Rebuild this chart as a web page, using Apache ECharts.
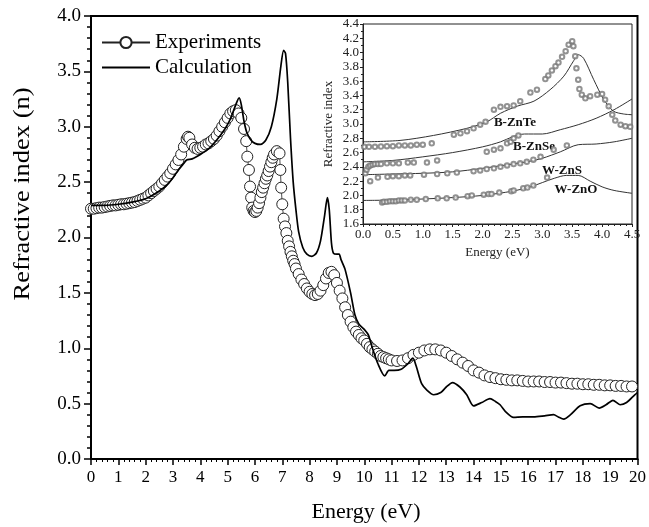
<!DOCTYPE html>
<html><head><meta charset="utf-8">
<script src="https://cdn.jsdelivr.net/npm/echarts@6/dist/echarts.min.js"></script>
<style>html,body{margin:0;padding:0;background:#fff}#c{width:649px;height:527px}</style>
</head><body><div id="c"></div>
<script>
// ---- main panel data ----
const expE = [0.0,0.1,0.2,0.3,0.4,0.5,0.6,0.7,0.8,0.9,1.0,1.1,1.2,1.3,1.4,1.5,1.6,1.7,1.8,1.9,2.0,2.1,2.2,2.3,2.4,2.5,2.6,2.7,2.8,2.9,3.0,3.1,3.2,3.3,3.4,3.5,3.55,3.6,3.7,3.8,3.9,4.0,4.1,4.2,4.3,4.4,4.5,4.6,4.7,4.8,4.9,5.0,5.1,5.2,5.3,5.4,5.5,5.6,5.68,5.72,5.78,5.82,5.86,5.9,5.95,6.0,6.05,6.1,6.15,6.2,6.25,6.3,6.35,6.4,6.45,6.5,6.55,6.6,6.65,6.7,6.8,6.9,6.93,6.96,7.0,7.05,7.1,7.15,7.2,7.25,7.3,7.35,7.4,7.45,7.5,7.6,7.7,7.8,7.9,8.0,8.1,8.2,8.3,8.4,8.5,8.6,8.7,8.8,8.9,9.0,9.1,9.2,9.3,9.4,9.5,9.6,9.7,9.8,9.9,10.0,10.1,10.2,10.3,10.4,10.5,10.6,10.7,10.8,10.9,11.0,11.2,11.4,11.6,11.8,12.0,12.2,12.4,12.6,12.8,13.0,13.2,13.4,13.6,13.8,14.0,14.2,14.4,14.6,14.8,15.0,15.2,15.4,15.6,15.8,16.0,16.2,16.4,16.6,16.8,17.0,17.2,17.4,17.6,17.8,18.0,18.2,18.4,18.6,18.8,19.0,19.2,19.4,19.6,19.8];
const expN = [2.26,2.26,2.265,2.27,2.27,2.275,2.28,2.285,2.29,2.29,2.295,2.30,2.30,2.305,2.31,2.315,2.32,2.33,2.34,2.35,2.36,2.38,2.40,2.42,2.44,2.46,2.49,2.52,2.55,2.58,2.62,2.66,2.70,2.75,2.82,2.89,2.91,2.90,2.84,2.81,2.80,2.81,2.82,2.84,2.85,2.87,2.89,2.92,2.96,3.00,3.04,3.08,3.12,3.14,3.15,3.12,3.08,2.98,2.87,2.73,2.61,2.46,2.36,2.27,2.24,2.23,2.24,2.27,2.31,2.36,2.41,2.45,2.49,2.53,2.56,2.60,2.64,2.68,2.72,2.75,2.78,2.76,2.61,2.45,2.30,2.17,2.10,2.04,1.97,1.92,1.87,1.83,1.79,1.76,1.72,1.67,1.62,1.58,1.54,1.51,1.49,1.48,1.49,1.52,1.57,1.63,1.68,1.69,1.66,1.59,1.52,1.45,1.37,1.30,1.24,1.19,1.15,1.12,1.09,1.07,1.04,1.01,0.99,0.97,0.95,0.93,0.92,0.91,0.90,0.89,0.885,0.89,0.91,0.94,0.96,0.98,0.99,0.99,0.98,0.96,0.93,0.90,0.87,0.84,0.80,0.78,0.755,0.74,0.73,0.72,0.715,0.71,0.71,0.705,0.70,0.70,0.70,0.695,0.695,0.69,0.69,0.685,0.68,0.68,0.675,0.675,0.67,0.67,0.665,0.665,0.66,0.66,0.655,0.655];
const calcE = [0.0,0.5,1.0,1.5,2.0,2.5,2.8,3.0,3.2,3.4,3.5,3.7,4.0,4.3,4.6,4.9,5.1,5.3,5.42,5.5,5.6,5.7,5.85,6.0,6.2,6.4,6.6,6.8,6.95,7.05,7.12,7.2,7.3,7.4,7.5,7.6,7.75,7.9,8.08,8.25,8.4,8.55,8.65,8.72,8.8,8.87,9.0,9.08,9.15,9.3,9.5,9.66,9.8,10.0,10.15,10.3,10.5,10.75,10.9,11.1,11.35,11.6,11.78,11.9,12.1,12.3,12.54,12.8,13.0,13.23,13.5,13.75,14.0,14.3,14.6,14.8,14.97,15.2,15.46,15.8,16.2,16.6,16.93,17.1,17.3,17.55,17.9,18.27,18.6,18.85,19.1,19.36,19.6,19.9,20.0];
const calcN = [2.29,2.29,2.30,2.32,2.35,2.42,2.48,2.54,2.61,2.67,2.70,2.71,2.75,2.80,2.88,2.98,3.07,3.20,3.26,3.20,3.05,2.95,2.88,2.85,2.84,2.88,3.00,3.25,3.55,3.69,3.66,3.40,2.90,2.50,2.25,2.05,1.91,1.85,1.83,1.86,1.97,2.20,2.36,2.25,1.95,1.86,1.85,1.85,1.80,1.71,1.50,1.30,1.22,1.17,1.12,1.00,0.86,0.75,0.80,0.80,0.81,0.86,0.91,0.84,0.68,0.62,0.58,0.60,0.65,0.69,0.65,0.58,0.48,0.51,0.545,0.52,0.49,0.42,0.375,0.38,0.38,0.39,0.40,0.38,0.36,0.40,0.48,0.50,0.46,0.49,0.53,0.49,0.51,0.58,0.60];
const xTicks = [0,1,2,3,4,5,6,7,8,9,10,11,12,13,14,15,16,17,18,19,20];
const yTicks = [0.0,0.5,1.0,1.5,2.0,2.5,3.0,3.5,4.0];

// ---- inset data ----
const znteCalcE = [0,0.62,1.18,1.74,2.07,2.3,2.58,2.86,3.13,3.36,3.52,3.6,3.69,3.86,4.03,4.19,4.36,4.5];
const znteCalcN = [2.75,2.77,2.84,2.94,3.03,3.15,3.25,3.32,3.48,3.67,3.88,3.97,3.92,3.62,3.34,3.18,3.14,3.13];
const znteExpE = [0.02,0.1,0.2,0.3,0.4,0.5,0.6,0.7,0.8,0.9,1.0,1.15,1.52,1.63,1.74,1.85,1.96,2.05,2.19,2.3,2.41,2.52,2.63,2.8,2.91,3.05,3.1,3.16,3.22,3.27,3.33,3.39,3.44,3.5,3.52,3.55,3.57,3.6,3.62,3.66,3.72,3.8,3.92,4.0,4.05,4.11,4.17,4.22,4.31,4.39,4.47];
const znteExpN = [2.68,2.68,2.68,2.685,2.69,2.69,2.70,2.70,2.70,2.71,2.71,2.73,2.85,2.87,2.90,2.94,2.99,3.03,3.20,3.24,3.25,3.26,3.32,3.44,3.48,3.63,3.68,3.75,3.81,3.86,3.94,4.02,4.11,4.16,4.09,3.95,3.78,3.62,3.49,3.41,3.36,3.39,3.41,3.42,3.34,3.25,3.13,3.05,2.99,2.97,2.96];
const znseCalcE = [0,0.5,1.0,1.5,2.0,2.3,2.5,2.7,3.0,3.3,3.6,3.9,4.2,4.5];
const znseCalcN = [2.47,2.49,2.54,2.60,2.68,2.75,2.82,2.86,2.86,2.92,2.99,3.08,3.20,3.35];
const znseExpE = [0.04,0.06,0.09,0.12,0.16,0.2,0.25,0.3,0.4,0.5,0.6,0.75,0.85,1.07,1.24,2.07,2.19,2.3,2.41,2.47,2.52,2.6,3.19,3.41];
const znseExpN = [2.31,2.36,2.40,2.42,2.43,2.44,2.44,2.44,2.45,2.45,2.45,2.46,2.46,2.46,2.49,2.61,2.64,2.66,2.73,2.75,2.80,2.84,2.64,2.70];
const znsCalcE = [0,0.5,1.0,1.5,2.0,2.5,2.8,3.0,3.3,3.6,3.9,4.2,4.5];
const znsCalcN = [2.29,2.30,2.31,2.33,2.38,2.44,2.48,2.52,2.61,2.71,2.72,2.75,2.80];
const znsExpE = [0.12,0.25,0.41,0.5,0.6,0.7,0.79,1.02,1.24,1.41,1.57,1.85,1.96,2.07,2.19,2.3,2.41,2.52,2.63,2.74,2.85,2.97];
const znsExpN = [2.20,2.25,2.26,2.27,2.27,2.28,2.28,2.29,2.30,2.31,2.32,2.34,2.35,2.37,2.38,2.40,2.42,2.44,2.45,2.47,2.50,2.54];
const znoCalcE = [0,0.5,1.0,1.5,2.0,2.5,2.8,3.0,3.2,3.4,3.6,3.8,4.0,4.2,4.5];
const znoCalcN = [1.93,1.935,1.95,1.97,2.0,2.06,2.12,2.18,2.24,2.28,2.28,2.20,2.12,2.07,2.03];
const znoExpE = [0.32,0.35,0.4,0.45,0.5,0.55,0.6,0.65,0.7,0.8,0.9,1.05,1.25,1.4,1.55,1.75,1.82,2.02,2.1,2.15,2.28,2.48,2.52,2.68,2.75,2.85,3.08];
const znoExpN = [1.90,1.91,1.91,1.92,1.92,1.92,1.93,1.93,1.93,1.94,1.94,1.95,1.96,1.96,1.97,1.99,2.00,2.01,2.02,2.02,2.04,2.06,2.07,2.10,2.11,2.14,2.25];
const insetLabels = ['B-ZnTe','B-ZnSe','W-ZnS','W-ZnO'];

const zip = (a,b)=>a.map((v,i)=>[v,b[i]]);
const serif = '"Liberation Serif","DejaVu Serif",serif';
const chart = echarts.init(document.getElementById('c'), null, {renderer:'canvas'});

const insetLine = (E,N)=>({type:'line',xAxisIndex:1,yAxisIndex:1,data:zip(E,N),showSymbol:false,symbol:'none',
  color:'#333',lineStyle:{color:'#333',width:1},smooth:0.3,z:3,silent:true});
const insetExp = (E,N)=>({type:'scatter',xAxisIndex:1,yAxisIndex:1,data:zip(E,N),symbol:'emptyCircle',symbolSize:4.5,
  color:'#777',itemStyle:{color:'#777',borderWidth:0.5},z:4,silent:true});

chart.setOption({
  animation:false,
  backgroundColor:'#fff',
  legend:{
    data:[{name:'Experiments'},{name:'Calculation',itemStyle:{opacity:0}}],
    orient:'vertical', left:96, top:27, itemWidth:48, itemHeight:14, itemGap:4,
    textStyle:{fontFamily:serif,fontSize:21,color:'#000'},
    selectedMode:false
  },
  grid:[
    {left:91,right:8,top:16,bottom:68,show:true,borderColor:'#000',borderWidth:2},
    {left:363,right:17,top:24,bottom:303,show:true,borderColor:'#222',borderWidth:1}
  ],
  xAxis:[
    {type:'value',gridIndex:0,min:xTicks[0],max:xTicks[xTicks.length-1],interval:1,
     axisLine:{lineStyle:{color:'#000',width:2}},
     axisTick:{inside:false,length:6,lineStyle:{width:1.5,color:'#000'}},
     minorTick:{show:true,splitNumber:5,length:3,lineStyle:{width:1,color:'#000'}},
     splitLine:{show:false},
     axisLabel:{fontFamily:serif,fontSize:17,color:'#000',margin:10}},
    {type:'value',gridIndex:1,min:0,max:4.5,interval:0.5,
     axisLine:{lineStyle:{color:'#222',width:1}},
     axisTick:{inside:false,length:3,lineStyle:{color:'#222'}},
     minorTick:{show:true,splitNumber:5,length:2,lineStyle:{color:'#222'}},
     splitLine:{show:false},
     axisLabel:{fontFamily:serif,fontSize:13,color:'#222',margin:4,formatter:v=>v.toFixed(1)},
     name:'Energy (eV)',nameLocation:'middle',nameGap:22,nameTextStyle:{fontFamily:serif,fontSize:13,color:'#222'}}
  ],
  yAxis:[
    {type:'value',gridIndex:0,min:yTicks[0],max:yTicks[yTicks.length-1],interval:0.5,
     axisLine:{lineStyle:{color:'#000',width:2}},
     axisTick:{inside:false,length:7,lineStyle:{width:1.5,color:'#000'}},
     minorTick:{show:true,splitNumber:5,length:4,lineStyle:{width:1.5,color:'#000'}},
     splitLine:{show:false},
     axisLabel:{fontFamily:serif,fontSize:19,color:'#000',margin:10,formatter:v=>v.toFixed(1)}},
    {type:'value',gridIndex:1,min:1.6,max:4.4,interval:0.2,
     axisLine:{lineStyle:{color:'#222',width:1}},
     axisTick:{inside:false,length:3,lineStyle:{color:'#222'}},
     minorTick:{show:true,splitNumber:2,length:2,lineStyle:{color:'#222'}},
     splitLine:{show:false},
     axisLabel:{fontFamily:serif,fontSize:13,color:'#222',margin:4,formatter:v=>v.toFixed(1)},
     name:'Refractive index',nameLocation:'middle',nameGap:28,nameTextStyle:{fontFamily:serif,fontSize:13,color:'#222'}}
  ],
  series:[
    {name:'Experiments',type:'line',xAxisIndex:0,yAxisIndex:0,data:zip(expE,expN),
     symbol:'circle',symbolSize:11,showAllSymbol:true,color:'#222',
     itemStyle:{color:'#fff',borderColor:'#222',borderWidth:1},
     lineStyle:{color:'#222',width:0.8},z:2},
    {name:'Calculation',type:'line',xAxisIndex:0,yAxisIndex:0,data:zip(calcE,calcN),
     symbol:'none',showSymbol:false,color:'#000',smooth:0.25,lineStyle:{color:'#000',width:1.7},z:3},
    insetLine(znteCalcE,znteCalcN), insetExp(znteExpE,znteExpN),
    insetLine(znseCalcE,znseCalcN), insetExp(znseExpE,znseExpN),
    insetLine(znsCalcE,znsCalcN), insetExp(znsExpE,znsExpN),
    insetLine(znoCalcE,znoCalcN), insetExp(znoExpE,znoExpN)
  ],
  graphic:[
    {type:'text',x:366,y:512,style:{text:'Energy (eV)',font:'22px '+serif,fill:'#000',textAlign:'center',textVerticalAlign:'middle'}},
    {type:'text',x:23,y:194,rotation:Math.PI/2,scaleX:1.15,style:{text:'Refractive index (n)',font:'23px '+serif,fill:'#000',textAlign:'center',textVerticalAlign:'middle'}},
    {type:'text',x:515,y:123,style:{text:insetLabels[0],font:'bold 13px '+serif,fill:'#111',textAlign:'center',textVerticalAlign:'middle'}},
    {type:'text',x:534,y:147,style:{text:insetLabels[1],font:'bold 13px '+serif,fill:'#111',textAlign:'center',textVerticalAlign:'middle'}},
    {type:'text',x:562,y:171,style:{text:insetLabels[2],font:'bold 13px '+serif,fill:'#111',textAlign:'center',textVerticalAlign:'middle'}},
    {type:'text',x:576,y:190,style:{text:insetLabels[3],font:'bold 13px '+serif,fill:'#111',textAlign:'center',textVerticalAlign:'middle'}}
  ]
});
</script></body></html>
